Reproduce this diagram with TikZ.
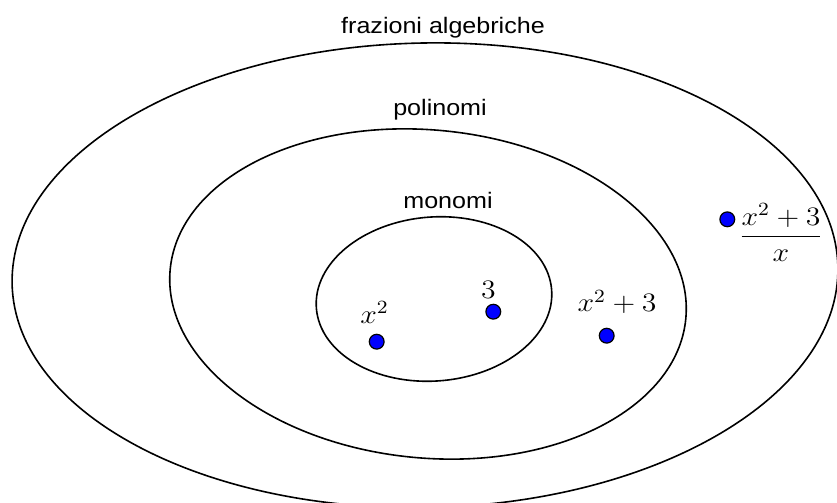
\RequirePackage{fix-cm}
\documentclass[tikz,border=0pt]{standalone}
\usepackage{fontspec}
\newfontfamily\lsans{Liberation Sans}
\newcommand\hstretch[1]{\scalebox{1.12}[1]{#1}}
\begin{document}
\begin{tikzpicture}[x=0.5pt,y=-0.5pt,
  ring/.style={line width=0.8pt, draw=black},
  dot/.style={circle, fill=blue, draw=black, line width=0.6pt, minimum size=7.4pt, inner sep=0pt},
  lab/.style={inner sep=0pt, anchor=base, font=\lsans\fontsize{11.2}{13}\selectfont},
  mlab/.style={inner sep=0pt, anchor=base, font=\fontsize{13.3}{16}\selectfont}]
\clip (0,0) rectangle (837,503);
\useasboundingbox (0,0) rectangle (837,503);
\fill[white] (0,0) rectangle (837,503);
% sets
\draw[ring, rotate around={1.2:(425,275.3)}] (425,275.3) ellipse [x radius=413, y radius=232.3];
\draw[ring, rotate around={-5.5:(428,294)}] (428,294) ellipse [x radius=259, y radius=164];
\draw[ring, rotate around={4.5:(434,299)}] (434,299) ellipse [x radius=118, y radius=82];
% set names
\node[lab] (tfraz) at (443,33) {\hstretch{frazioni algebriche}};
\node[lab] (tpol) at (440,115) {\hstretch{polinomi}};
\node[lab] (tmon) at (448,208) {\hstretch{monomi}};
% elements
\node[dot] (d1) at (376.7,341.7) {};
\node[dot] (d2) at (493.3,311.7) {};
\node[dot] (d3) at (606.7,335.7) {};
\node[dot] (d4) at (727.3,219.3) {};
\node[mlab] (l1) at (374.5,323) {\hstretch{$x^2$}};
\node[mlab] (l2) at (488.3,298) {\hstretch{$3$}};
\node[mlab] (l3) at (617,311.7) {\hstretch{$x^2+3$}};
\node[mlab] (l4) at (781,243.4) {\hstretch{${\displaystyle\frac{x^2+3}{x}}$}};
\end{tikzpicture}
\end{document}
